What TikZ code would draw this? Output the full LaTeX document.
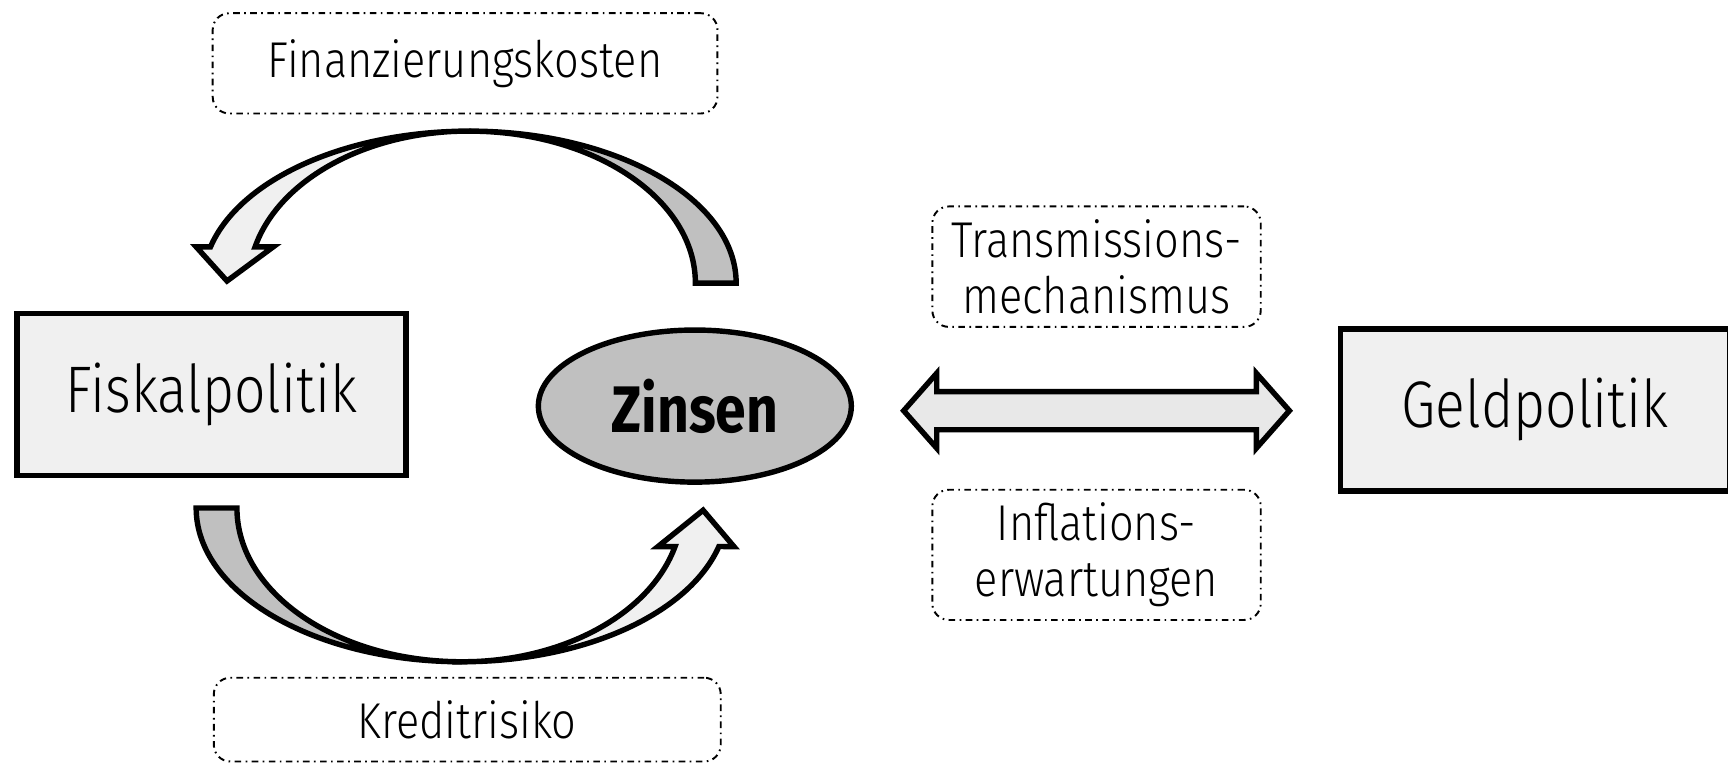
\documentclass[tikz,border=0pt]{standalone}
\usepackage{fontspec}
\setmainfont{Fira Sans}
\newfontfamily\narrowfont[FakeStretch=0.84, UprightFont={* Light}, BoldFont={* Bold}]{Fira Sans}
\newfontfamily\labelfont[FakeStretch=0.86, UprightFont={* Light}]{Fira Sans}
\usetikzlibrary{shapes.geometric}
\definecolor{boxgray}{HTML}{F0F0F0}
\definecolor{darkfill}{HTML}{C0C0C0}
\definecolor{arrowgray}{HTML}{E8E8E8}
\tikzset{policy/.style={draw, line width=1.4pt, fill=boxgray, minimum width=3.53cm, minimum height=1.47cm, font=\narrowfont\fontsize{17}{20}\selectfont}}
\tikzset{factor/.style={draw, rounded corners=0.15cm, line width=0.5pt, dash pattern=on 0.06cm off 0.04cm on 0.015cm off 0.04cm, minimum width=2.98cm, minimum height=1.08cm, align=center, font=\labelfont\fontsize{13}{14.5}\selectfont}}
\tikzset{fatarrow/.style={draw, line width=1.4pt, line join=miter}}

\begin{document}
\begin{tikzpicture}
\useasboundingbox (0,0) rectangle (15.68,6.94);
% boxes
\node[policy] (fiskal) at (1.92,3.36) {Fiskalpolitik};
\node[policy] (geld) at (13.93,3.22) {Geldpolitik};
\node[ellipse, draw, line width=1.4pt, fill=darkfill, minimum width=2.84cm, minimum height=1.38cm, font=\narrowfont\fontsize{17}{20}\selectfont\bfseries] (zins) at (6.305,3.255) {Zinsen};
\node[factor, minimum width=4.58cm, minimum height=0.91cm] (fkosten) at (4.22,6.365) {Finanzierungskosten};
\node[factor, minimum width=4.60cm, minimum height=0.76cm] (kredit) at (4.24,0.41) {Kreditrisiko};
\node[factor] (transm) at (9.95,4.52) {Transmissions-\\mechanismus};
\node[factor] (inflat) at (9.95,1.905) {Inflations-\\erwartungen};
% double arrow
\coordinate (dl) at (8.20,3.213);
\coordinate (dr) at (11.70,3.213);
\draw[fatarrow, fill=arrowgray] (dl) -- ++(0.30,0.34) -- ++(0,-0.167) -- ++(2.90,0) -- ++(0,0.167) -- (dr) -- ++(-0.30,-0.34) -- ++(0,0.167) -- ++(-2.90,0) -- ++(0,-0.167) -- cycle;
% curved arrows
\coordinate (ttop) at (4.26,5.75);
\coordinate (bbot) at (4.19,0.935);
\draw[fatarrow, fill=boxgray] (ttop) arc[start angle=90, end angle=166.2, x radius=2.42, y radius=1.38] -- (1.78,4.70) -- (2.06,4.39) -- (2.48,4.70) -- (2.315,4.70) arc[start angle=166.2, end angle=90, x radius=2.0, y radius=1.38] -- cycle;
\draw[fatarrow, fill=darkfill] (ttop) arc[start angle=90, end angle=0, x radius=2.42, y radius=1.38] -- ++(-0.37,0) arc[start angle=0, end angle=90, x radius=2.05, y radius=1.38] -- cycle;
\draw[fatarrow, fill=darkfill] (bbot) arc[start angle=270, end angle=180, x radius=2.41, y radius=1.395] -- ++(0.37,0) arc[start angle=180, end angle=270, x radius=2.04, y radius=1.395] -- cycle;
\draw[fatarrow, fill=boxgray] (bbot) arc[start angle=270, end angle=345.5, x radius=2.41, y radius=1.395] -- (6.66,1.98) -- (6.38,2.31) -- (5.97,1.98) -- (6.125,1.98) arc[start angle=345.5, end angle=270, x radius=2.0, y radius=1.395] -- cycle;
\end{tikzpicture}
\end{document}
